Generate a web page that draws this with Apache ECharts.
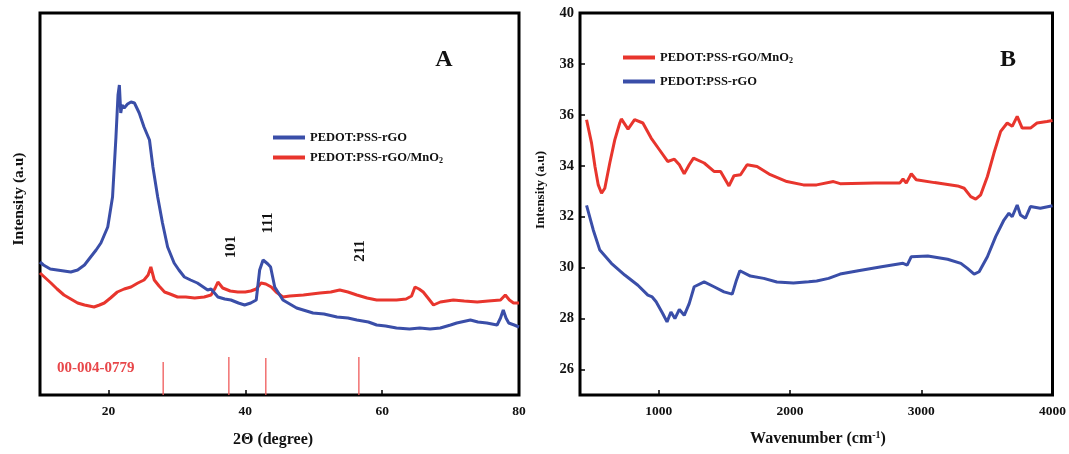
<!DOCTYPE html>
<html>
<head>
<meta charset="utf-8">
<script src="https://cdn.jsdelivr.net/npm/echarts@6/dist/echarts.min.js"></script>
<style>html,body{margin:0;padding:0;background:#fff}#c{width:1069px;height:454px}</style>
</head>
<body>
<div id="c"></div>
<script>
// ---------- Panel A : XRD (2θ, arbitrary intensity) ----------
const xrdRGO = [
[10.0,133],[10.5,130],[11.5,126],[12.5,125],[13.5,124],[14.5,123],[15.5,125],[16.5,130],[17.4,138],[18.2,145],
[18.9,152],[19.9,168],[20.6,198],[21.1,258],[21.4,300],[21.6,310],[21.8,282],[22.0,290],[22.3,287],[22.8,291],
[23.3,293],[23.8,292],[24.5,282],[25.2,268],[26.0,255],[26.5,228],[27.2,198],[27.9,172],[28.65,148],[29.6,132],
[30.3,125],[31.1,118],[32.0,115],[33.0,112],[34.5,105],[35.0,106],[36.0,98],[37.0,96],[37.9,95],[39.0,92],
[39.9,90],[40.8,92],[41.6,95],[42.1,125],[42.6,135],[43.3,131],[43.7,128],[44.0,118],[44.3,108],[45.5,95],
[47.5,87],[49.9,82],[51.5,81],[53.4,78],[55.0,77],[56.3,75],[58.0,73],[59.2,70],[60.5,69],[62.1,67],
[64.0,66],[65.5,67],[67.0,66],[68.5,67],[70.0,70],[70.9,72],[72.9,75],[74.0,73],[75.3,72],[76.8,70],
[77.3,77],[77.7,85],[78.1,77],[78.5,72],[79.3,70],[80.0,68]
];
const xrdMnO2 = [
[10.0,122],[10.8,117],[11.6,112],[12.5,106],[13.5,100],[14.5,96],[15.5,92],[16.5,90],[17.9,88],[18.7,90],
[19.4,92],[20.3,97],[21.3,103],[22.3,106],[23.3,108],[24.3,112],[25.2,115],[25.8,120],[26.2,128],[26.7,115],
[27.4,109],[28.2,103],[29.0,101],[30.1,98],[31.3,98],[32.6,97],[34.0,98],[35.0,100],[35.6,107],[36.0,113],
[36.7,107],[37.8,104],[38.9,103],[40.0,103],[40.8,104],[41.6,106],[42.3,112],[43.0,111],[43.8,108],[44.5,103],
[45.5,98],[46.5,99],[48.5,100],[50.9,102],[52.5,103],[53.8,105],[55.0,103],[56.3,100],[57.8,97],[59.2,95],
[60.5,95],[62.1,95],[63.5,96],[64.3,99],[64.8,108],[65.4,106],[66.0,103],[66.7,97],[67.5,90],[68.5,93],
[70.4,95],[72.0,94],[73.9,93],[75.5,94],[77.3,95],[78.0,100],[78.6,95],[79.2,92],[80.0,92]
];
// reference pattern 00-004-0779 : [2θ, relative height]
const refPattern = [[28.0,33],[37.6,38],[43.0,37],[56.6,38]];
const xrdTicks = [20,40,60,80];
const peakLabels = ['101','111','211'];

// ---------- Panel B : FTIR ----------
const ftirRGO = [
[450,32.45],[501,31.48],[551,30.69],[639,30.17],[741,29.71],[841,29.31],[917,28.92],[950,28.85],[980,28.66],[1030,28.2],
[1063,27.87],[1093,28.26],[1123,28.0],[1157,28.36],[1194,28.13],[1232,28.59],[1270,29.25],[1346,29.44],[1421,29.25],[1497,29.05],
[1560,28.96],[1592,29.51],[1618,29.88],[1698,29.67],[1800,29.58],[1900,29.44],[2026,29.40],[2142,29.45],[2203,29.48],[2294,29.58],
[2382,29.75],[2520,29.88],[2697,30.04],[2861,30.17],[2893,30.10],[2924,30.43],[3050,30.46],[3201,30.33],[3302,30.17],[3352,29.97],
[3403,29.75],[3441,29.84],[3504,30.43],[3567,31.22],[3630,31.87],[3668,32.14],[3693,32.0],[3731,32.46],[3756,32.07],[3794,31.94],
[3832,32.40],[3907,32.33],[4000,32.43]
];
const ftirMnO2 = [
[450,35.81],[488,34.89],[514,33.97],[539,33.25],[564,32.92],[589,33.12],[627,34.11],[665,35.02],[703,35.68],[715,35.84],
[766,35.44],[816,35.81],[879,35.68],[942,35.09],[1005,34.63],[1068,34.17],[1119,34.26],[1157,34.04],[1194,33.69],[1232,34.04],
[1265,34.30],[1346,34.11],[1421,33.78],[1471,33.78],[1535,33.21],[1573,33.61],[1623,33.65],[1673,34.04],[1749,33.97],[1850,33.65],
[1976,33.38],[2102,33.25],[2203,33.25],[2331,33.38],[2382,33.30],[2646,33.32],[2836,33.32],[2861,33.48],[2886,33.32],[2924,33.69],
[2962,33.45],[3101,33.34],[3277,33.21],[3327,33.12],[3377,32.79],[3415,32.69],[3453,32.86],[3504,33.58],[3554,34.50],[3605,35.35],
[3655,35.68],[3693,35.55],[3731,35.94],[3769,35.48],[3832,35.48],[3882,35.68],[3958,35.74],[4000,35.78]
];
const ftirXTicks = [1000,2000,3000,4000];
const ftirYTicks = [26,28,30,32,34,36,38,40];

const nameRGO = 'PEDOT:PSS-rGO';
const nameMn = 'PEDOT:PSS-rGO/MnO2';
const BLUE = '#3a4ea8', RED = '#e8352d';
const FF = '"Liberation Serif","Times New Roman",serif';

const chart = echarts.init(document.getElementById('c'), null, {renderer:'canvas'});
const plain = v => String(v);
const tickLabel = {fontFamily:FF, fontWeight:'bold', fontSize:13.5, color:'#111', formatter:plain};
const legendText = {
  fontFamily:FF, fontWeight:'bold', fontSize:12.5, color:'#111', lineHeight:15,
  rich:{ sub:{fontFamily:FF, fontWeight:'bold', fontSize:8, color:'#111', padding:[7,0,0,0]} }
};
const fmtName = n => n.replace('MnO2','MnO{sub|2}');

chart.setOption({
  animation:false,
  grid:[
    {left:40, top:13, width:479, height:382, show:true, borderColor:'#000', borderWidth:3, backgroundColor:'transparent'},
    {left:580, top:13, width:476, height:382, show:true, borderColor:'#000', borderWidth:3, backgroundColor:'transparent'}
  ],
  xAxis:[
    {type:'value', gridIndex:0, min:10, max:80,
     axisLine:{show:false}, splitLine:{show:false},
     axisTick:{show:true, inside:true, length:5, lineStyle:{color:'#000', width:1.5}, customValues:[20,40,60]},
     axisLabel:{...tickLabel, margin:10, customValues:xrdTicks}},
    {type:'value', gridIndex:1, min:400, max:4000,
     axisLine:{show:false}, splitLine:{show:false},
     axisTick:{show:true, inside:true, length:5, lineStyle:{color:'#000', width:1.5}, customValues:[1000,2000,3000]},
     axisLabel:{...tickLabel, margin:10, customValues:ftirXTicks}}
  ],
  yAxis:[
    {type:'value', gridIndex:0, min:0, max:382,
     axisLine:{show:false}, splitLine:{show:false}, axisTick:{show:false}, axisLabel:{show:false}},
    {type:'value', gridIndex:1, min:25, max:40,
     axisLine:{show:false}, splitLine:{show:false},
     axisTick:{show:true, inside:true, length:5, lineStyle:{color:'#000', width:1.5}, customValues:ftirYTicks},
     axisLabel:{...tickLabel, fontSize:14.5, margin:6, customValues:ftirYTicks}}
  ],
  legend:[
    {left:268, top:125, orient:'vertical', itemGap:5, itemWidth:32, itemHeight:4, icon:'rect',
     data:[nameRGO, nameMn], textStyle:legendText, formatter:fmtName, selectedMode:false},
    {left:618, top:45, orient:'vertical', itemGap:9, itemWidth:32, itemHeight:4, icon:'rect',
     data:[nameMn, nameRGO], textStyle:legendText, formatter:fmtName, selectedMode:false}
  ],
  series:[
    {name:nameMn, type:'line', xAxisIndex:0, yAxisIndex:0, data:xrdMnO2, showSymbol:false,
     lineStyle:{color:RED, width:3}, itemStyle:{color:RED}, z:2},
    {name:nameRGO, type:'line', xAxisIndex:0, yAxisIndex:0, data:xrdRGO, showSymbol:false,
     lineStyle:{color:BLUE, width:3}, itemStyle:{color:BLUE}, z:3},
    {name:'00-004-0779', type:'bar', xAxisIndex:0, yAxisIndex:0, data:refPattern, barWidth:1.3,
     itemStyle:{color:'#ef5a5a'}, silent:true},
    {name:nameMn, type:'line', xAxisIndex:1, yAxisIndex:1, data:ftirMnO2, showSymbol:false,
     lineStyle:{color:RED, width:3}, itemStyle:{color:RED}},
    {name:nameRGO, type:'line', xAxisIndex:1, yAxisIndex:1, data:ftirRGO, showSymbol:false,
     lineStyle:{color:BLUE, width:3}, itemStyle:{color:BLUE}}
  ],
  graphic:[
    {type:'text', x:444, y:60, style:{text:'A', font:'bold 24px '+FF, fill:'#111', align:'center', verticalAlign:'middle'}},
    {type:'text', x:1008, y:60, style:{text:'B', font:'bold 24px '+FF, fill:'#111', align:'center', verticalAlign:'middle'}},
    {type:'text', x:231, y:247, rotation:Math.PI/2, style:{text:peakLabels[0], font:'bold 15px '+FF, fill:'#111', align:'center', verticalAlign:'middle'}},
    {type:'text', x:268, y:223, rotation:Math.PI/2, style:{text:peakLabels[1], font:'bold 15px '+FF, fill:'#111', align:'center', verticalAlign:'middle'}},
    {type:'text', x:360, y:251, rotation:Math.PI/2, style:{text:peakLabels[2], font:'bold 15px '+FF, fill:'#111', align:'center', verticalAlign:'middle'}},
    {type:'text', x:57, y:368, style:{text:'00-004-0779', font:'bold 15px '+FF, fill:'#e8474a', align:'left', verticalAlign:'middle'}},
    {type:'text', x:19, y:199, rotation:Math.PI/2, style:{text:'Intensity (a.u)', font:'bold 15.5px '+FF, fill:'#111', align:'center', verticalAlign:'middle'}},
    {type:'text', x:541, y:190, rotation:Math.PI/2, style:{text:'Intensity (a.u)', font:'bold 13px '+FF, fill:'#111', align:'center', verticalAlign:'middle'}},
    {type:'text', x:273, y:440, style:{text:'2Θ (degree)', font:'bold 16px '+FF, fill:'#111', align:'center', verticalAlign:'middle'}},
    {type:'text', x:818, y:439, style:{text:'Wavenumber (cm{sup|-1})', font:'bold 16px '+FF, fill:'#111', align:'center', verticalAlign:'middle',
      rich:{sup:{font:'bold 10px '+FF, fill:'#111', padding:[0,0,8,0]}}}}
  ]
});
</script>
</body>
</html>
